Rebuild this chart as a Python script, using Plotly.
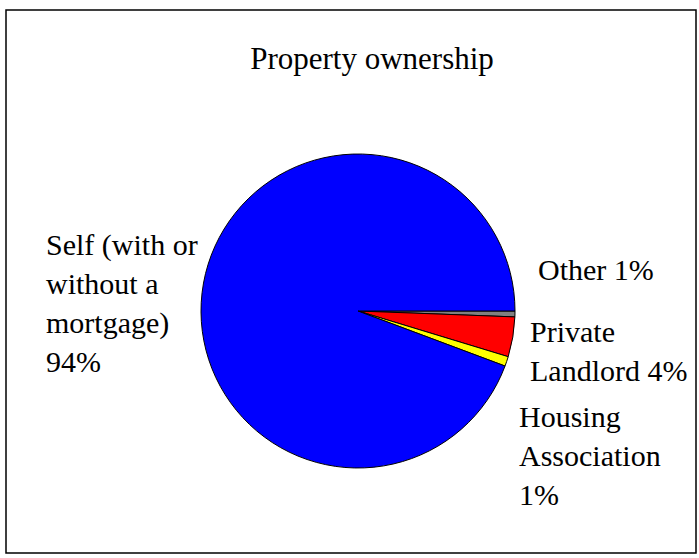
import plotly.graph_objects as go

# Property ownership shares (percent of respondents)
categories = ["Other", "Private Landlord", "Housing Association", "Self (with or without a mortgage)"]
shares = [0.6, 4.1, 1.0, 94.3]
colors = ["#808080", "#ff0000", "#ffff00", "#0000ff"]

# Label text as drawn beside the pie (line breaks where the text wraps)
label_lines = {
    "Other": "Other",
    "Private Landlord": "Private<br>Landlord",
    "Housing Association": "Housing<br>Association<br>",
    "Self (with or without a mortgage)": "Self (with or<br>without a<br>mortgage)<br>",
}
label_pos = {
    "Other": (536, 270),
    "Private Landlord": (528, 332),
    "Housing Association": (517, 417),
    "Self (with or without a mortgage)": (44, 245),
}

W, H = 699, 558
cx, cy, r = 358, 311, 157
SERIF = "Times New Roman, Liberation Serif, serif"

fig = go.Figure(
    go.Pie(
        labels=categories,
        values=shares,
        sort=False,
        direction="clockwise",
        rotation=90,
        marker=dict(colors=colors, line=dict(color="black", width=1)),
        textinfo="none",
        hoverinfo="label+percent",
        showlegend=False,
        domain=dict(x=[(cx - r) / W, (cx + r) / W], y=[1 - (cy + r) / H, 1 - (cy - r) / H]),
    )
)

total = sum(shares)
font = dict(family=SERIF, size=30, color="black")
for cat, val in zip(categories, shares):
    pct = f"{round(val / total * 100)}%"
    base = label_lines[cat]
    text = base + pct if base.endswith("<br>") else base + " " + pct
    x, y = label_pos[cat]
    fig.add_annotation(
        x=x / W, y=1 - (y - 19) / H, xref="paper", yref="paper",
        xanchor="left", yanchor="top", align="left",
        text=text, showarrow=False, font=font,
    )

fig.update_layout(
    width=W, height=H,
    margin=dict(l=0, r=0, t=0, b=0),
    paper_bgcolor="white", plot_bgcolor="white",
    font=dict(family=SERIF),
    title=dict(text="Property ownership", x=372 / W, xanchor="center",
               y=1 - 58 / H, yanchor="middle",
               font=dict(family=SERIF, size=31, color="black")),
    shapes=[dict(type="rect", xref="paper", yref="paper",
                 x0=6 / W, x1=696 / W, y0=1 - 553 / H, y1=1 - 10 / H,
                 line=dict(color="black", width=1.5))],
)

fig.write_html("out.html")
